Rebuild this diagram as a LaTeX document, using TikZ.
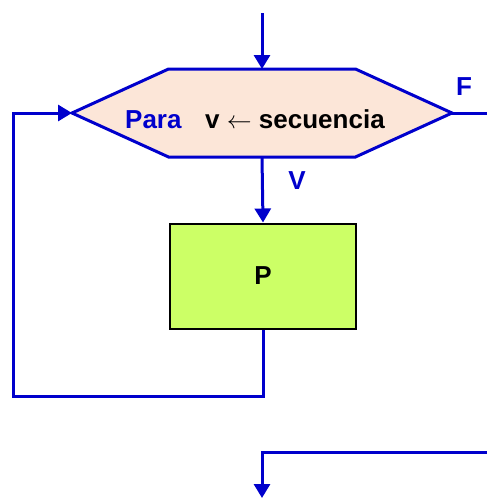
\documentclass[tikz,border=0pt]{standalone}
\usepackage{fontspec}
\setmainfont{Liberation Sans}
\usetikzlibrary{arrows.meta,shapes.symbols}
\definecolor{flowblue}{HTML}{0000CC}
\definecolor{hexfill}{HTML}{FCE6D8}
\definecolor{boxfill}{HTML}{CCFF66}
\tikzset{
  flow/.style = {draw=flowblue, line width=3pt},
  go/.style = {flow, -{Triangle[length=14pt,width=16pt]}},
  lbl/.style = {font=\fontsize{26}{31}\selectfont\bfseries, inner sep=0pt}
}

\begin{document}
\begin{tikzpicture}[x=1pt,y=-1pt]
	\useasboundingbox (0,0) rectangle (487,498);

	% Para loop head
	\node[signal, signal to=west and east, signal pointer angle=49,
	      minimum width=380pt, minimum height=88pt, inner sep=0pt, outer sep=0pt,
	      fill=hexfill, draw=flowblue, line width=3pt] (para) at (262,113) {};
	\node[lbl, text=flowblue, anchor=base west] (paraword) at (125,128) {Para};
	\node[lbl, anchor=base west] (seq) at (205,128) {v $\leftarrow$ secuencia};

	% Body
	\node[draw=black, line width=2pt, fill=boxfill, minimum width=186pt,
	      minimum height=105pt, lbl] (P) at (263,276) {P};

	% Coordinates
	\coordinate (start) at (262,13);
	\coordinate (loopL) at (13,396);
	\coordinate (exitF) at (487,113);
	\coordinate (back) at (487,452);
	\coordinate (next) at (262,498);

	% Connectors
	\draw[go] (start) -- (para.north);
	\draw[go] (para.south) -- (P.north);
	\draw[go] (P.south) |- (loopL) |- (para.west);
	\draw[flow] (para.east) -- (exitF);
	\draw[go] (back) -| (next);

	% Labels
	\node[lbl, text=flowblue] (vlabel) at (297,181) {V};
	\node[lbl, text=flowblue] (flabel) at (464,87) {F};
\end{tikzpicture}
\end{document}
